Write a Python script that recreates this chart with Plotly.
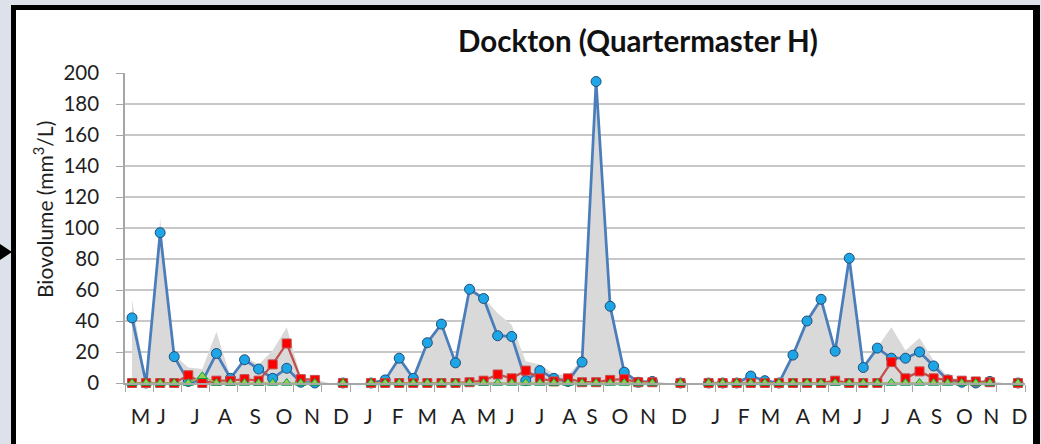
import plotly.graph_objects as go

# Sample sequence (one slot per sampling visit, None = no sample)
sample_idx = list(range(64))

total_biovolume = [
    53.5, 0, 106, 18, 10, 9, 33, 4, 17, 12, 21, 36, 4, 2.5, 0, 0,
    0, 0, 2, 16.5, 3.5, 26.5, 38.5, 13.5, 61, 55, 45, 37.5, 14, 12, 6, 5,
    15, 196, 51, 9, 1, 1.5, 0, 0, 0, 0, 0, 0.5, 4.5, 1.5, 2, 18.5,
    40.5, 54.5, 21, 81, 10.5, 23, 36, 21, 29, 14.5, 4, 2, 1, 1.5, 0, 0,
]

series_1 = [
    42, 0, 97, 17, 1, 1, 19, 3, 15, 9, 3, 9.5, 0.5, 0, None, 0,
    None, 0, 2, 16, 3, 26, 38, 13, 60.5, 54.5, 30.5, 30, 1.5, 8, 3, 1,
    13.5, 194.5, 49.5, 7, 0.5, 1, None, 0, None, 0, 0, 0, 4.5, 1.5, 0, 18,
    40, 54, 20.5, 80.5, 10, 22.5, 16, 16, 20, 11, 2, 0.5, 0, 1, None, 0,
]

series_2 = [
    0, 0, 0, 0, 5, 0, 1.5, 1.5, 2.5, 1.5, 12, 25.5, 2.5, 2, None, 0,
    None, 0, 0, 0, 0, 0, 0, 0, 0.5, 1.5, 5.5, 3, 8, 3, 1, 3,
    0.5, 0.5, 2, 2.5, 0.5, 0.5, None, 0, None, 0, 0, 0, 0, 0, 0, 0,
    0, 0, 1.5, 0, 0, 0, 13.5, 3, 7.5, 3, 2, 1.5, 1, 0.5, None, 0,
]

series_3 = [
    0, 0, 0, 0, 0, 4.3, 0, 0, 0, 0, 0, 0, 0, 0, None, 0,
    None, 0, 0, 0, 0, 0, 0, 0, 0, 0, 0, 0, 0, 0, 0, 0,
    0, 0, 0, 0, 0, 0, None, 0, None, 0, 0, 0, 0, 0, 0, 0,
    0, 0, 0, 0, 0, 0, 0, 0, 0, 0, 0, 0, 0, 0, None, 0,
]

month_labels = ["M", "J", "J", "A", "S", "O", "N", "D", "J", "F", "M", "A", "M", "J", "J", "A",
                "S", "O", "N", "D", "J", "F", "M", "A", "M", "J", "J", "A", "S", "O", "N", "D"]
month_label_at = [0.6, 2.1, 4.5, 6.6, 8.75, 10.8, 12.8, 14.85, 16.8, 18.9, 21.0, 23.2, 25.2, 26.9,
                  29.0, 31.1, 32.7, 34.7, 36.7, 38.9, 41.5, 43.5, 45.4, 47.7, 49.7, 51.6, 53.6, 55.6,
                  57.2, 59.2, 61.1, 63.1]

y_ticks = [0, 20, 40, 60, 80, 100, 120, 140, 160, 180, 200]

title_text = "Dockton (Quartermaster H)"
y_title = "Biovolume (mm<sup>3</sup>/L)"

# ---- layout geometry (pixels) ----
W, H = 1041, 444
L, R, T, B = 125, 16, 73, 61
PW, PH = W - L - R, H - T - B


def px(x):
    return (x - L) / PW


def py(y):
    return (H - B - y) / PH


FONT = "Lato, 'Open Sans', sans-serif"
AXIS_GREY = "#a6a6a6"

fig = go.Figure()

fig.add_trace(go.Scatter(
    x=sample_idx, y=total_biovolume, mode="lines", fill="tozeroy",
    line=dict(width=0, color="#d9d9d9"), fillcolor="#d9d9d9",
    hoverinfo="skip", showlegend=False,
))
fig.add_trace(go.Scatter(
    x=sample_idx, y=series_1, mode="lines+markers", connectgaps=False,
    line=dict(color="#4a7ebb", width=2.75),
    marker=dict(symbol="circle", size=10, color="#1ea5e6", line=dict(color="#1f4e79", width=1)),
    cliponaxis=False, showlegend=False,
))
fig.add_trace(go.Scatter(
    x=sample_idx, y=series_2, mode="lines+markers", connectgaps=False,
    line=dict(color="#c0504d", width=2.25),
    marker=dict(symbol="square", size=9, color="#ff0000", line=dict(color="#c0504d", width=1)),
    cliponaxis=False, showlegend=False,
))
fig.add_trace(go.Scatter(
    x=sample_idx, y=series_3, mode="lines+markers", connectgaps=False,
    line=dict(color="#9bbb59", width=1.5),
    marker=dict(symbol="triangle-up", size=9, color="#92d050", line=dict(color="#00a04a", width=1)),
    cliponaxis=False, showlegend=False,
))

fig.update_layout(
    width=W, height=H,
    margin=dict(l=L, r=R, t=T, b=B, pad=0),
    paper_bgcolor="white", plot_bgcolor="white",
    font=dict(family=FONT, color="#1f1f1f"),
    xaxis=dict(
        range=[-0.5, 63.5], showgrid=False, zeroline=False,
        showline=True, linecolor=AXIS_GREY, linewidth=1.5,
        tickmode="array", tickvals=month_label_at, ticktext=month_labels,
        ticks="", ticklen=0, ticklabelstandoff=14,
        tickfont=dict(size=21, family=FONT, color="#1f1f1f"),
        minor=dict(tickmode="linear", tick0=-0.5, dtick=2, ticks="outside",
                   ticklen=7, tickcolor=AXIS_GREY, tickwidth=1, showgrid=False),
    ),
    yaxis=dict(
        range=[0, 200], tickmode="array", tickvals=y_ticks,
        showgrid=True, gridcolor="#c8c8c8", gridwidth=1.5, zeroline=False,
        showline=True, linecolor=AXIS_GREY, linewidth=1.5,
        ticks="outside", ticklen=7, tickcolor=AXIS_GREY,
        ticklabelstandoff=13,
        tickfont=dict(size=20.5, family=FONT, color="#1f1f1f"),
    ),
)

# Title and rotated y-axis caption
fig.add_annotation(
    text="<b>" + title_text + "</b>", xref="paper", yref="paper",
    x=px(638), y=py(40), xanchor="center", yanchor="middle", showarrow=False,
    font=dict(family=FONT, size=29.5, color="#111111"),
)
fig.add_annotation(
    text=y_title, xref="paper", yref="paper", textangle=-90,
    x=px(43), y=py(210), xanchor="center", yanchor="middle", showarrow=False,
    font=dict(family=FONT, size=21, color="#1f1f1f"),
)

# Slide backdrop around the framed chart
BG = "#dde2ea"
shapes = [
    dict(type="rect", xref="paper", yref="paper", x0=px(0), x1=px(11), y0=py(H), y1=py(0),
         fillcolor=BG, line=dict(width=0), layer="above"),
    dict(type="rect", xref="paper", yref="paper", x0=px(0), x1=px(W), y0=py(5), y1=py(0),
         fillcolor=BG, line=dict(width=0), layer="above"),
    dict(type="rect", xref="paper", yref="paper", x0=px(1040), x1=px(W), y0=py(H), y1=py(0),
         fillcolor=BG, line=dict(width=0), layer="above"),
    # black frame
    dict(type="rect", xref="paper", yref="paper", x0=px(11), x1=px(16), y0=py(H), y1=py(5),
         fillcolor="black", line=dict(width=0), layer="above"),
    dict(type="rect", xref="paper", yref="paper", x0=px(11), x1=px(1040), y0=py(10), y1=py(5),
         fillcolor="black", line=dict(width=0), layer="above"),
    dict(type="rect", xref="paper", yref="paper", x0=px(1033), x1=px(1040), y0=py(H), y1=py(5),
         fillcolor="black", line=dict(width=0), layer="above"),
    # pointer arrow on the left edge
    dict(type="path", xref="paper", yref="paper",
         path=f"M {px(0)} {py(244)} L {px(12)} {py(252)} L {px(0)} {py(260)} Z",
         fillcolor="black", line=dict(width=0), layer="above"),
]
fig.update_layout(shapes=shapes)

fig.write_html("out.html")
